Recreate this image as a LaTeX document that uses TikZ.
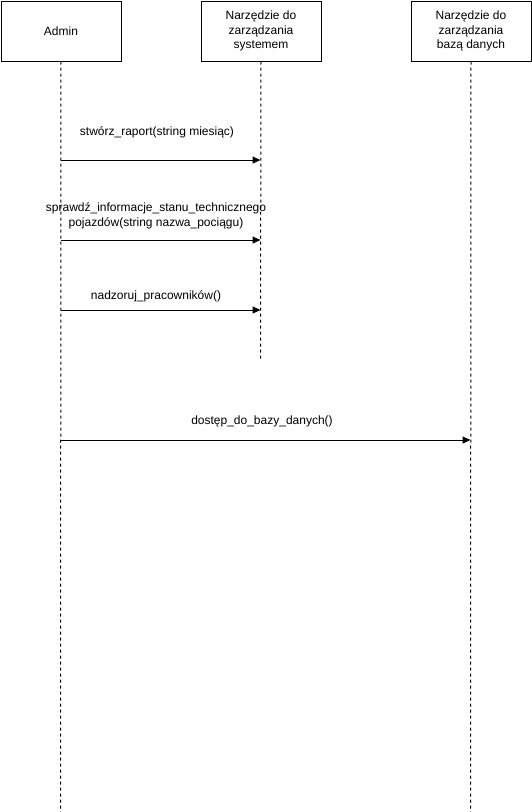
\documentclass[tikz,border=0pt]{standalone}
\usepackage{fontspec}
\setmainfont{Liberation Sans}
\usetikzlibrary{arrows.meta}
\begin{document}
\begin{tikzpicture}[x=1pt,y=-1pt,
  actor/.style={draw,line width=1pt,minimum width=120pt,minimum height=60pt,align=center,inner sep=0pt,font=\fontsize{12}{14.5}\selectfont,anchor=north west},
  lifeline/.style={line width=1pt,dash pattern=on 3pt off 3pt},
  msg/.style={line width=1pt,-{Triangle[length=8pt,width=7pt]}},
  lbl/.style={font=\fontsize{12}{14.5}\selectfont,align=center,inner sep=0pt}]
\useasboundingbox (0,0) rectangle (531,812);
\node[actor] (admin) at (0.5,0.5) {Admin};
\node[actor] (sys) at (200.5,0.5) {Narzędzie do\\zarządzania\\systemem};
\node[actor] (db) at (410.5,0.5) {Narzędzie do\\zarządzania\\bazą danych};
\coordinate (adminEnd) at (60.5,812);
\coordinate (sysEnd) at (260.5,360);
\coordinate (dbEnd) at (470.5,812);
\draw[lifeline] (admin.south) -- (adminEnd);
\draw[lifeline] (sys.south) -- (sysEnd);
\draw[lifeline] (db.south) -- (dbEnd);
% message endpoints
\coordinate (a1) at (60.5,160); \coordinate (s1) at (260.5,160);
\coordinate (a2) at (60.5,240); \coordinate (s2) at (260.5,240);
\coordinate (a3) at (60.5,310); \coordinate (s3) at (260.5,310);
\coordinate (a4) at (60.5,440); \coordinate (d4) at (470.5,440);
\draw[msg] (a1) -- (s1);
\draw[msg] (a2) -- (s2);
\draw[msg] (a3) -- (s3);
\draw[msg] (a4) -- (d4);
\node[lbl] (l1) at (157,132) {stwórz\_raport(string miesiąc)};
\node[lbl] (l2) at (156,216) {sprawdź\_informacje\_stanu\_technicznego\\pojazdów(string nazwa\_pociągu)};
\node[lbl] (l3) at (156,296) {nadzoruj\_pracowników()};
\node[lbl] (l4) at (262,421) {dostęp\_do\_bazy\_danych()};
\end{tikzpicture}
\end{document}
